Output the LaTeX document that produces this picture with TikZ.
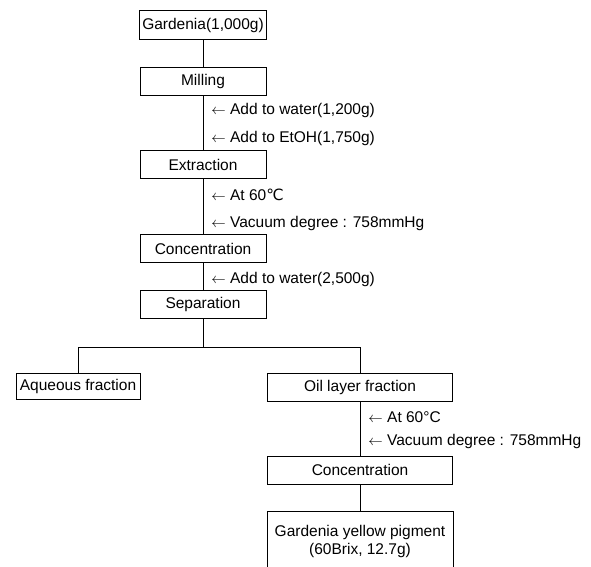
\documentclass[tikz,border=0pt]{standalone}
\usepackage{fontspec}
\setmainfont{Liberation Sans}
\newfontfamily\symfont{DejaVu Sans}
\begin{document}
\begin{tikzpicture}[x=1pt, y=-1pt, line width=0.9pt,
  every node/.style={font=\fontsize{15.5}{18}\selectfont},
  procbox/.style={draw, rectangle, minimum width=126, minimum height=28, inner sep=1pt},
  note/.style={anchor=west, inner sep=0pt}]
\clip (0,0) rectangle (591,566);
% main column
\node[procbox, minimum width=127, minimum height=29] (gard) at (203,25) {Gardenia(1,000g)};
\node[procbox] (mill) at (203,81) {Milling};
\node[procbox] (extr) at (203,164.5) {Extraction};
\node[procbox] (conc) at (203,248.5) {Concentration};
\node[procbox] (sepa) at (203,304) {Separation};
\node[note] (addw) at (211,110) {$\leftarrow$ Add to water(1,200g)};
\node[note] (adde) at (211,138) {$\leftarrow$ Add to EtOH(1,750g)};
\node[note] (tmpa) at (211,195) {$\leftarrow$ At 60{\symfont ℃}};
\node[note] (vaca) at (211,223) {$\leftarrow$ Vacuum degree : 758mmHg};
\node[note] (addx) at (211,279) {$\leftarrow$ Add to water(2,500g)};
\draw (gard) -- (mill);
\draw (mill) -- (extr);
\draw (extr) -- (conc);
\draw (conc) -- (sepa);
% split
\coordinate (split) at (203,347);
\node[procbox, minimum width=124, minimum height=26] (aque) at (78,386) {Aqueous fraction};
\node[procbox, minimum width=185] (oilf) at (360,387) {Oil layer fraction};
\draw (sepa) -- (split);
\draw (aque) |- (split) -| (oilf);
% oil branch
\node[procbox, minimum width=185] (conb) at (360,470) {Concentration};
\node[note] (tmpb) at (368,417) {$\leftarrow$ At 60°C};
\node[note] (vacb) at (368,441) {$\leftarrow$ Vacuum degree : 758mmHg};
\node[minimum width=185, minimum height=58, align=center, inner sep=0pt] (pigm) at (360,541) {Gardenia yellow pigment\\(60Brix, 12.7g)};
\draw (pigm.south west) -- (pigm.north west) -- (pigm.north east) -- (pigm.south east);
\draw (oilf) -- (conb);
\draw (conb) -- (pigm);
\end{tikzpicture}
\end{document}
